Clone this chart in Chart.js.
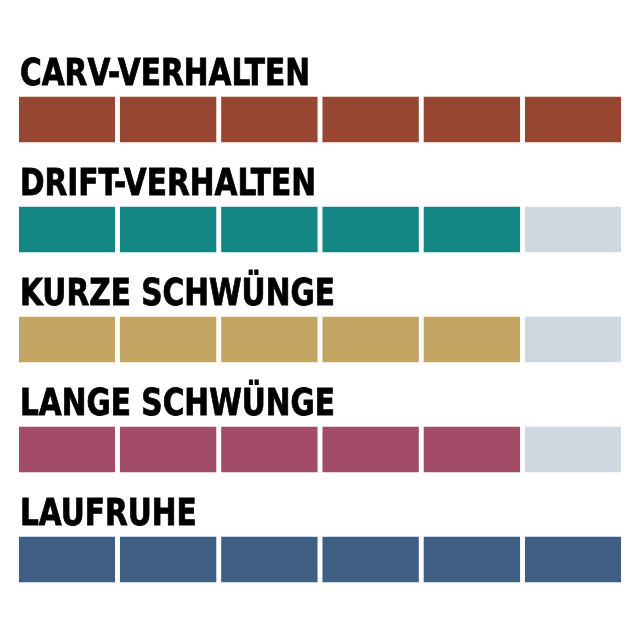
<!DOCTYPE html>
<html>
<head>
<meta charset="utf-8">
<script src="https://cdn.jsdelivr.net/npm/chart.js@4"></script>
<style>
  html, body { margin: 0; padding: 0; background: #fff; }
  #wrap { width: 640px; height: 640px; position: relative; }
</style>
</head>
<body>
<div id="wrap"><canvas id="ratingChart"></canvas></div>
<script>
// Bewertungen (Blöcke von 6)
const kategorien = ['CARV-VERHALTEN', 'DRIFT-VERHALTEN', 'KURZE SCHWÜNGE', 'LANGE SCHWÜNGE', 'LAUFRUHE'];
const bewertung = [6, 5, 5, 5, 6];
const maxPunkte = 6;
const farben = ['#974631', '#138683', '#c3a564', '#a24c67', '#3e5e84'];
const leerFarbe = '#cdd8e0';

// Lücke zwischen den Blöcken (Anteil eines Blocks)
const luecke = 0.055;

const datasets = [];
for (let i = 0; i < maxPunkte; i++) {
    datasets.push({
        data: kategorien.map(() => [i, i + 1 - luecke]),
        backgroundColor: bewertung.map((b, r) => i < b ? farben[r] : leerFarbe),
        borderWidth: 0,
        barThickness: 45,
        grouped: false
    });
}

// Titel über jedem Balken
const titelPlugin = {
    id: 'titel',
    afterDatasetsDraw(chart) {
        const ctx = chart.ctx;
        const y = chart.scales.y;
        const x = chart.scales.x;
        ctx.save();
        ctx.font = 'bold 38px "Liberation Sans Narrow", "DejaVu Sans Condensed", "Roboto Condensed", sans-serif';
        ctx.fillStyle = '#000';
        ctx.strokeStyle = '#000';
        ctx.lineWidth = 0.8;
        ctx.textBaseline = 'alphabetic';
        const skala = 290 / ctx.measureText(kategorien[0]).width;
        kategorien.forEach((k, i) => {
            const mitte = y.getPixelForValue(i);
            ctx.save();
            ctx.translate(x.left + 1, mitte - 22.5 - 12);
            ctx.scale(skala, 1);
            ctx.fillText(k, 0, 0);
            ctx.strokeText(k, 0, 0);
            ctx.restore();
        });
        ctx.restore();
    }
};

new Chart(document.getElementById('ratingChart'), {
    type: 'bar',
    data: { labels: kategorien, datasets: datasets },
    options: {
        indexAxis: 'y',
        responsive: true,
        maintainAspectRatio: false,
        animation: false,
        layout: { padding: { top: 64.5, bottom: 25.5, left: 19, right: 19 } },
        plugins: { legend: { display: false }, tooltip: { enabled: false } },
        scales: {
            x: { display: false, min: 0, max: maxPunkte - luecke },
            y: { display: false, offset: true }
        }
    },
    plugins: [titelPlugin]
});
</script>
</body>
</html>
